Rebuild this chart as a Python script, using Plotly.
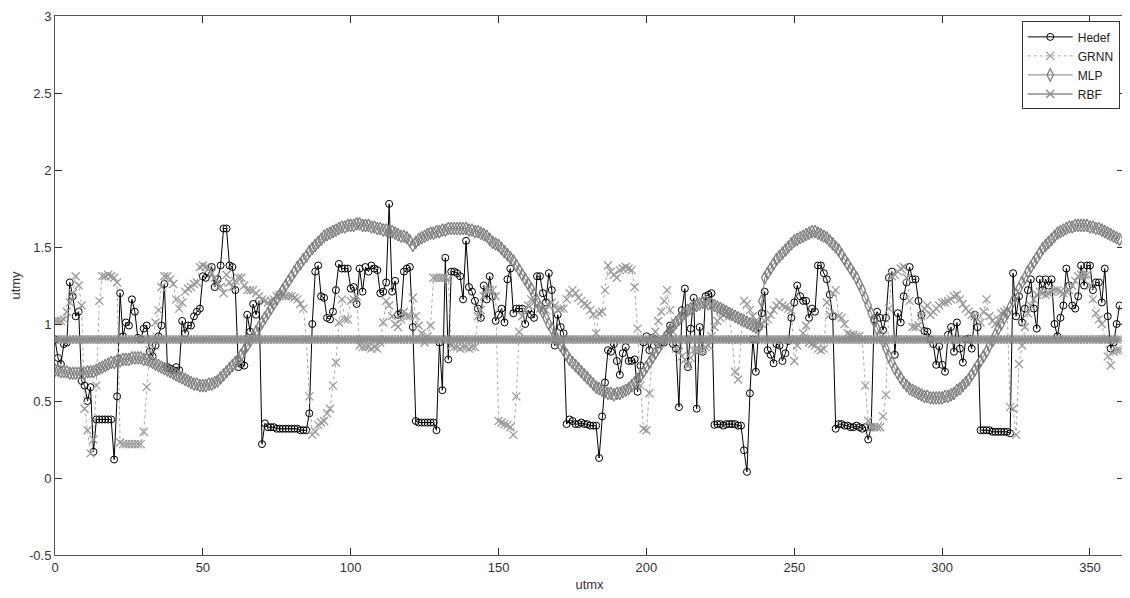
import plotly.graph_objects as go

sample_index = list(range(0, 361))

hedef = [
    0.90, 0.78, 0.74, 0.87, 0.88, 1.27, 1.18, 1.05, 1.08, 0.63,
    0.60, 0.50, 0.59, 0.17, 0.38, 0.38, 0.38, 0.38, 0.38, 0.38,
    0.12, 0.53, 1.20, 0.92, 1.01, 0.99, 1.16, 1.08, 0.91, 0.90,
    0.97, 0.99, 0.82, 0.79, 0.86, 0.92, 0.99, 1.26, 0.72, 0.71,
    0.70, 0.72, 0.70, 1.02, 0.94, 0.99, 0.99, 1.05, 1.08, 1.10,
    1.31, 1.30, 1.33, 1.37, 1.24, 1.29, 1.38, 1.62, 1.62, 1.38,
    1.37, 1.22, 0.72, 0.74, 0.73, 1.06, 0.95, 1.13, 1.06, 1.15,
    0.22, 0.355, 0.33, 0.33, 0.33, 0.32, 0.32, 0.32, 0.32, 0.32,
    0.32, 0.32, 0.32, 0.31, 0.31, 0.31, 0.42, 1.00, 1.34, 1.38,
    1.18, 1.17, 1.04, 1.03, 1.08, 1.22, 1.39, 1.36, 1.36, 1.36,
    1.23, 1.24, 1.13, 1.36, 1.21, 1.37, 1.34, 1.38, 1.36, 1.35,
    1.20, 1.21, 1.27, 1.78, 1.21, 1.28, 1.06, 1.07, 1.34, 1.36,
    1.37, 0.98, 0.37, 0.36, 0.36, 0.36, 0.36, 0.36, 0.36, 0.31,
    0.88, 0.57, 1.43, 0.77, 1.34, 1.34, 1.33, 1.31, 1.16, 1.54,
    1.24, 1.21, 1.15, 1.10, 1.04, 1.25, 1.16, 1.31, 1.18, 1.02,
    1.06, 1.10, 1.01, 1.29, 1.36, 1.07, 1.10, 1.10, 1.10, 1.00,
    1.09, 1.06, 1.04, 1.31, 1.31, 1.20, 1.14, 1.33, 1.22, 0.86,
    1.06, 0.98, 0.94, 0.35, 0.38, 0.37, 0.35, 0.35, 0.36, 0.35,
    0.35, 0.34, 0.34, 0.34, 0.13, 0.40, 0.62, 0.83, 0.82, 0.87,
    0.76, 0.67, 0.81, 0.85, 0.76, 0.76, 0.77, 0.56, 0.73, 0.88,
    0.92, 0.83, 0.91, 0.90, 0.87, 0.88, 0.88, 0.93, 0.99, 0.87,
    0.84, 0.46, 1.09, 1.23, 0.72, 0.97, 1.17, 0.45, 0.98, 0.82,
    1.18, 1.19, 1.20, 0.345, 0.35, 0.35, 0.34, 0.35, 0.35, 0.35,
    0.35, 0.34, 0.34, 0.18, 0.04, 0.55, 0.90, 0.69, 0.98, 1.07,
    1.21, 0.83, 0.80, 0.745, 0.87, 0.86, 0.76, 0.81, 0.89, 1.04,
    1.14, 1.25, 1.18, 1.15, 1.15, 1.04, 1.10, 1.08, 1.38, 1.38,
    1.33, 1.29, 1.19, 1.05, 0.32, 0.35, 0.35, 0.34, 0.34, 0.33,
    0.33, 0.34, 0.33, 0.32, 0.33, 0.25, 0.33, 1.03, 1.08, 1.04,
    0.96, 1.04, 1.30, 1.34, 0.80, 1.07, 1.01, 1.18, 1.27, 1.37,
    1.29, 1.29, 1.15, 1.06, 0.955, 0.95, 0.90, 0.87, 0.735, 0.855,
    0.735, 0.69, 0.93, 0.98, 0.82, 1.01, 0.84, 0.75, 0.90, 0.905,
    0.84, 1.06, 0.98, 0.31, 0.31, 0.31, 0.31, 0.30, 0.30, 0.30,
    0.30, 0.30, 0.30, 0.29, 1.33, 1.05, 1.18, 1.01, 1.10, 1.22,
    1.29, 1.10, 0.97, 1.29, 1.22, 1.29, 1.25, 1.29, 1.00, 0.92,
    1.04, 1.12, 1.36, 1.25, 1.12, 1.10, 1.18, 1.38, 1.25, 1.38,
    1.38, 1.22, 1.27, 1.27, 1.14, 1.36, 1.05, 0.84, 0.88, 1.00,
    1.12,
]

grnn = [
    1.02, 1.02, 1.02, 1.03, 1.08, 1.14, 1.20, 1.31, 1.25, 1.12,
    0.45, 0.31, 0.16, 0.25, 0.60, 1.15, 1.31, 1.31, 1.32, 1.31,
    1.30, 1.27, 0.23, 0.22, 0.22, 0.22, 0.22, 0.22, 0.22, 0.22,
    0.30, 0.59, 0.83, 0.90, 1.01, 1.09, 1.24, 1.31, 1.31, 1.29,
    1.26, 1.16, 1.10, 1.14, 1.21, 1.23, 1.24, 1.26, 1.27, 1.37,
    1.38, 1.37, 1.36, 1.33, 1.30, 1.27, 1.24, 1.20, 1.32, 1.27,
    1.24, 1.28, 1.30, 1.30, 1.25, 1.22, 1.22, 1.22, 1.20, 1.18,
    1.16, 1.15, 1.14, 1.15, 1.16, 1.18, 1.19, 1.19, 1.18, 1.18,
    1.18, 1.17, 1.16, 1.13, 1.10, 0.90, 0.53, 0.28, 0.30, 0.345,
    0.36, 0.37, 0.42, 0.45, 0.60, 0.75, 1.01, 1.16, 1.03, 1.03,
    1.15, 1.16, 1.18, 0.86, 0.85, 0.85, 0.85, 0.84, 0.85, 0.84,
    0.88, 1.01, 1.15, 1.12, 1.05, 1.00, 0.98, 1.03, 1.08, 1.05,
    1.05, 1.17, 1.05, 0.99, 0.94, 0.88, 0.92, 0.99, 1.30, 1.30,
    1.30, 1.30, 1.30, 1.29, 0.86, 0.85, 0.85, 0.84, 0.85, 0.85,
    0.84, 0.85, 0.85, 1.05, 1.09, 1.18, 1.22, 1.22, 1.22, 1.18,
    0.37, 0.36, 0.35, 0.345, 0.33, 0.28, 0.53, 0.95, 1.05, 1.09,
    1.12, 1.16, 1.14, 1.12, 1.10, 1.10, 1.09, 1.12, 1.14, 1.12,
    1.09, 1.10, 1.10, 1.16, 1.20, 1.22, 1.20, 1.17, 1.15, 1.13,
    1.12, 1.09, 1.06, 0.94, 1.07, 1.08, 1.22, 1.38, 1.34, 1.32,
    1.30, 1.35, 1.36, 1.37, 1.36, 1.35, 1.24, 0.97, 0.60, 0.32,
    0.31, 0.55, 0.80, 0.95, 1.02, 1.08, 1.15, 1.22, 1.09, 0.95,
    0.84, 0.82, 0.79, 0.77, 0.73, 0.78, 0.83, 0.83, 0.83, 0.83,
    0.85, 0.86, 0.92, 0.98, 1.02, 1.04, 1.06, 1.08, 1.05, 0.90,
    0.69, 0.64, 0.90, 1.15, 1.13, 1.09, 1.05, 1.02, 0.99, 1.00,
    1.02, 1.03, 1.06, 1.09, 1.12, 1.14, 1.12, 1.11, 1.10, 1.09,
    0.76, 0.86, 0.90, 0.94, 0.99, 0.88, 0.87, 0.86, 0.84, 0.83,
    0.84, 1.14, 1.06, 1.20, 1.22, 1.05, 1.04, 1.00, 0.94, 0.93,
    0.93, 0.92, 0.92, 0.90, 0.60, 0.37, 0.33, 0.33, 0.33, 0.33,
    0.40, 0.54, 1.10, 1.31, 1.32, 1.34, 1.36, 1.37, 1.30, 1.15,
    0.98, 0.98, 0.99, 1.05, 1.10, 1.12, 1.06, 1.08, 1.10, 1.12,
    1.14, 1.14, 1.15, 1.16, 1.18, 1.19, 1.16, 1.13, 1.10, 1.08,
    1.06, 1.05, 1.03, 1.01, 1.08, 1.16, 1.05, 1.02, 1.00, 1.03,
    1.07, 1.08, 1.09, 0.46, 0.45, 0.28, 0.74, 0.86, 0.98, 1.07,
    1.12, 1.16, 1.19, 1.21, 1.20, 1.19, 1.20, 1.21, 1.22, 1.22,
    1.21, 1.20, 1.21, 1.22, 1.25, 1.28, 1.31, 1.32, 1.32, 1.32,
    1.25, 1.16, 1.07, 1.03, 1.00, 0.90, 0.79, 0.73, 0.82, 0.83,
    0.83,
]

mlp = [
    0.70, 0.70, 0.69, 0.69, 0.69, 0.68, 0.68, 0.68, 0.68, 0.68,
    0.68, 0.69, 0.69, 0.69, 0.70, 0.71, 0.72, 0.73, 0.74, 0.75,
    0.75, 0.76, 0.76, 0.77, 0.77, 0.77, 0.78, 0.78, 0.78, 0.78,
    0.77, 0.77, 0.76, 0.75, 0.74, 0.73, 0.72, 0.71, 0.70, 0.69,
    0.68, 0.67, 0.66, 0.65, 0.64, 0.63, 0.62, 0.61, 0.61, 0.60,
    0.60, 0.60, 0.61, 0.61, 0.62, 0.63, 0.65, 0.67, 0.69, 0.71,
    0.73, 0.75, 0.77, 0.80, 0.83, 0.86, 0.89, 0.92, 0.95, 0.98,
    1.01, 1.04, 1.07, 1.10, 1.13, 1.16, 1.19, 1.22, 1.25, 1.28,
    1.31, 1.34, 1.37, 1.39, 1.42, 1.44, 1.47, 1.49, 1.51, 1.53,
    1.55, 1.57, 1.58, 1.59, 1.60, 1.61, 1.62, 1.63, 1.63, 1.64,
    1.64, 1.64, 1.65, 1.65, 1.64, 1.64, 1.64, 1.63, 1.63, 1.62,
    1.62, 1.61, 1.61, 1.60, 1.60, 1.59, 1.58, 1.57, 1.57, 1.56,
    1.54, 1.51, 1.53, 1.55, 1.56, 1.57, 1.58, 1.59, 1.59, 1.60,
    1.60, 1.61, 1.61, 1.62, 1.62, 1.62, 1.62, 1.62, 1.62, 1.62,
    1.61, 1.61, 1.60, 1.60, 1.59, 1.58, 1.57, 1.55, 1.53, 1.52,
    1.51, 1.49, 1.47, 1.45, 1.43, 1.41, 1.38, 1.35, 1.32, 1.29,
    1.26, 1.23, 1.19, 1.15, 1.11, 1.08, 1.04, 1.00, 0.97, 0.93,
    0.89, 0.86, 0.83, 0.80, 0.77, 0.75, 0.73, 0.71, 0.69, 0.67,
    0.65, 0.63, 0.61, 0.59, 0.58, 0.57, 0.56, 0.55, 0.55, 0.54,
    0.55, 0.55, 0.56, 0.57, 0.58, 0.60, 0.62, 0.64, 0.66, 0.69,
    0.72, 0.75, 0.78, 0.81, 0.84, 0.87, 0.90, 0.93, 0.96, 0.99,
    1.01, 1.03, 1.05, 1.07, 1.09, 1.10, 1.11, 1.12, 1.13, 1.14,
    1.14, 1.13, 1.13, 1.12, 1.11, 1.10, 1.09, 1.08, 1.07, 1.06,
    1.05, 1.04, 1.03, 1.02, 1.01, 1.00, 0.99, 0.98, 0.98, 1.15,
    1.30, 1.33, 1.36, 1.39, 1.42, 1.44, 1.46, 1.48, 1.50, 1.52,
    1.54, 1.55, 1.56, 1.57, 1.58, 1.59, 1.60, 1.60, 1.59, 1.58,
    1.57, 1.56, 1.54, 1.52, 1.50, 1.48, 1.45, 1.42, 1.39, 1.36,
    1.33, 1.30, 1.26, 1.22, 1.17, 1.12, 1.07, 1.02, 0.97, 0.93,
    0.89, 0.84, 0.79, 0.75, 0.71, 0.68, 0.65, 0.62, 0.60, 0.58,
    0.57, 0.56, 0.55, 0.54, 0.53, 0.53, 0.52, 0.52, 0.52, 0.52,
    0.52, 0.53, 0.53, 0.54, 0.55, 0.57, 0.58, 0.60, 0.62, 0.64,
    0.67, 0.70, 0.73, 0.76, 0.79, 0.82, 0.86, 0.89, 0.93, 0.97,
    1.00, 1.04, 1.07, 1.11, 1.15, 1.19, 1.23, 1.27, 1.30, 1.34,
    1.37, 1.40, 1.43, 1.46, 1.49, 1.51, 1.53, 1.55, 1.57, 1.59,
    1.60, 1.61, 1.62, 1.63, 1.63, 1.64, 1.64, 1.64, 1.64, 1.64,
    1.63, 1.63, 1.62, 1.62, 1.61, 1.60, 1.59, 1.58, 1.57, 1.56,
    1.55,
]

rbf = [
    0.90, 0.90, 0.90, 0.90, 0.90, 0.90, 0.90, 0.90, 0.90, 0.90,
    0.90, 0.90, 0.90, 0.90, 0.90, 0.90, 0.90, 0.90, 0.90, 0.90,
    0.90, 0.90, 0.90, 0.90, 0.90, 0.90, 0.90, 0.90, 0.90, 0.90,
    0.90, 0.90, 0.90, 0.90, 0.90, 0.90, 0.90, 0.90, 0.90, 0.90,
    0.90, 0.90, 0.90, 0.90, 0.90, 0.90, 0.90, 0.90, 0.90, 0.90,
    0.90, 0.90, 0.90, 0.90, 0.90, 0.90, 0.90, 0.90, 0.90, 0.90,
    0.90, 0.90, 0.90, 0.90, 0.90, 0.90, 0.90, 0.90, 0.90, 0.90,
    0.90, 0.90, 0.90, 0.90, 0.90, 0.90, 0.90, 0.90, 0.90, 0.90,
    0.90, 0.90, 0.90, 0.90, 0.90, 0.90, 0.90, 0.90, 0.90, 0.90,
    0.90, 0.90, 0.90, 0.90, 0.90, 0.90, 0.90, 0.90, 0.90, 0.90,
    0.90, 0.90, 0.90, 0.90, 0.90, 0.90, 0.90, 0.90, 0.90, 0.90,
    0.90, 0.90, 0.90, 0.90, 0.90, 0.90, 0.90, 0.90, 0.90, 0.90,
    0.90, 0.90, 0.90, 0.90, 0.90, 0.90, 0.90, 0.90, 0.90, 0.90,
    0.90, 0.90, 0.90, 0.90, 0.90, 0.90, 0.90, 0.90, 0.90, 0.90,
    0.90, 0.90, 0.90, 0.90, 0.90, 0.90, 0.90, 0.90, 0.90, 0.90,
    0.90, 0.90, 0.90, 0.90, 0.90, 0.90, 0.90, 0.90, 0.90, 0.90,
    0.90, 0.90, 0.90, 0.90, 0.90, 0.90, 0.90, 0.90, 0.90, 0.90,
    0.90, 0.90, 0.90, 0.90, 0.90, 0.90, 0.90, 0.90, 0.90, 0.90,
    0.90, 0.90, 0.90, 0.90, 0.90, 0.90, 0.90, 0.90, 0.90, 0.90,
    0.90, 0.90, 0.90, 0.90, 0.90, 0.90, 0.90, 0.90, 0.90, 0.90,
    0.90, 0.90, 0.90, 0.90, 0.90, 0.90, 0.90, 0.90, 0.90, 0.90,
    0.90, 0.90, 0.90, 0.90, 0.90, 0.90, 0.90, 0.90, 0.90, 0.90,
    0.90, 0.90, 0.90, 0.90, 0.90, 0.90, 0.90, 0.90, 0.90, 0.90,
    0.90, 0.90, 0.90, 0.90, 0.90, 0.90, 0.90, 0.90, 0.90, 0.90,
    0.90, 0.90, 0.90, 0.90, 0.90, 0.90, 0.90, 0.90, 0.90, 0.90,
    0.90, 0.90, 0.90, 0.90, 0.90, 0.90, 0.90, 0.90, 0.90, 0.90,
    0.90, 0.90, 0.90, 0.90, 0.90, 0.90, 0.90, 0.90, 0.90, 0.90,
    0.90, 0.90, 0.90, 0.90, 0.90, 0.90, 0.90, 0.90, 0.90, 0.90,
    0.90, 0.90, 0.90, 0.90, 0.90, 0.90, 0.90, 0.90, 0.90, 0.90,
    0.90, 0.90, 0.90, 0.90, 0.90, 0.90, 0.90, 0.90, 0.90, 0.90,
    0.90, 0.90, 0.90, 0.90, 0.90, 0.90, 0.90, 0.90, 0.90, 0.90,
    0.90, 0.90, 0.90, 0.90, 0.90, 0.90, 0.90, 0.90, 0.90, 0.90,
    0.90, 0.90, 0.90, 0.90, 0.90, 0.90, 0.90, 0.90, 0.90, 0.90,
    0.90, 0.90, 0.90, 0.90, 0.90, 0.90, 0.90, 0.90, 0.90, 0.90,
    0.90, 0.90, 0.90, 0.90, 0.90, 0.90, 0.90, 0.90, 0.90, 0.90,
    0.90, 0.90, 0.90, 0.90, 0.90, 0.90, 0.90, 0.90, 0.90, 0.90,
    0.90,
]

x_ticks = [0, 50, 100, 150, 200, 250, 300, 350]
y_ticks = [-0.5, 0, 0.5, 1, 1.5, 2, 2.5, 3]
y_tick_labels = ["-0.5", "0", "0.5", "1", "1.5", "2", "2.5", "3"]

FONT = "Arial, Liberation Sans, sans-serif"

fig = go.Figure()

fig.add_trace(go.Scatter(
    x=sample_index, y=hedef, name="Hedef", mode="lines+markers",
    line=dict(color="#000000", width=1),
    marker=dict(symbol="circle-open", size=7, color="#000000", line=dict(width=1, color="#000000")),
))
fig.add_trace(go.Scatter(
    x=sample_index, y=grnn, name="GRNN", mode="lines+markers",
    line=dict(color="#a8a8a8", width=1, dash="dot"),
    marker=dict(symbol="x-thin-open", size=8, color="#999999", line=dict(width=1.3, color="#999999")),
))
fig.add_trace(go.Scatter(
    x=sample_index, y=mlp, name="MLP", mode="lines+markers",
    line=dict(color="#808080", width=1),
    marker=dict(symbol="diamond-tall-open", size=9, color="#808080", line=dict(width=1.3, color="#7c7c7c")),
))
fig.add_trace(go.Scatter(
    x=sample_index, y=rbf, name="RBF", mode="lines+markers",
    line=dict(color="#8c8c8c", width=1.5),
    marker=dict(symbol="x-thin-open", size=8, color="#8c8c8c", line=dict(width=1.4, color="#8c8c8c")),
))

axis_common = dict(
    showline=True, linecolor="#555555", linewidth=1, mirror="ticks",
    ticks="inside", ticklen=7, tickcolor="#333333", tickwidth=1,
    showgrid=False, zeroline=False, automargin=False,
    ticklabeloverflow="allow",
    tickfont=dict(family=FONT, size=13, color="#333333"),
)

fig.update_layout(
    width=1130, height=598,
    margin=dict(l=47, r=14, t=8, b=51),
    paper_bgcolor="white", plot_bgcolor="white",
    font=dict(family=FONT, size=12, color="#333333"),
    showlegend=True,
    legend=dict(
        x=0.996, y=0.99, xanchor="right", yanchor="top",
        bgcolor="white", bordercolor="#333333", borderwidth=1,
        font=dict(family=FONT, size=12, color="#222222"),
        tracegroupgap=0, itemwidth=45,
    ),
    xaxis=dict(
        range=[0, 361.5], tickvals=x_ticks, ticktext=[str(v) for v in x_ticks],
        title=dict(text="utmx", standoff=6, font=dict(family=FONT, size=13, color="#333333")),
        **axis_common,
    ),
    yaxis=dict(
        range=[-0.5, 3], tickvals=y_ticks, ticktext=y_tick_labels,
        title=dict(text="utmy", standoff=6, font=dict(family=FONT, size=13, color="#333333")),
        **axis_common,
    ),
)

fig.write_html("out.html")
